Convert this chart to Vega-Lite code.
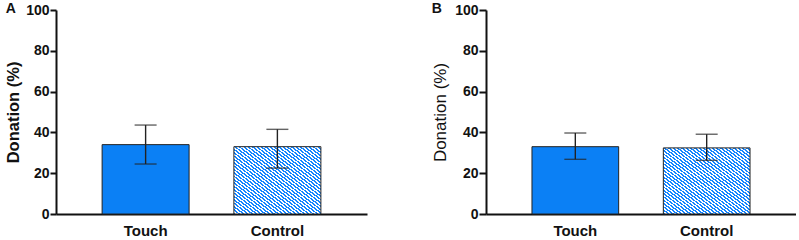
{
  "$schema": "https://vega.github.io/schema/vega-lite/v6.json",
  "padding": {"left": 5, "top": 2, "right": 0, "bottom": 0},
  "background": "white",
  "config": {
    "view": {"stroke": null},
    "font": "Liberation Sans",
    "axis": {"grid": false, "domainColor": "#111", "tickColor": "#111", "labelColor": "#111", "titleColor": "#111"},
    "title": {"anchor": "start", "frame": "bounds", "fontSize": 14, "fontWeight": "bold", "color": "#111"}
  },
  "data": {"values": [
    {"panel": "A", "cond": "Touch", "mean": 34.0, "lo": 24.5, "hi": 43.6},
    {"panel": "A", "cond": "Control", "mean": 33.0, "lo": 22.5, "hi": 41.5},
    {"panel": "B", "cond": "Touch", "mean": 33.0, "lo": 26.8, "hi": 39.7},
    {"panel": "B", "cond": "Control", "mean": 32.4, "lo": 26.3, "hi": 39.1}
  ]},
  "spacing": 64,
  "hconcat": [
    {
      "title": {"text": "A", "offset": -13},
      "width": 311,
      "height": 204,
      "transform": [{"filter": "datum.panel === 'A'"}],
      "encoding": {
        "x": {"field": "cond", "type": "nominal", "sort": ["Touch", "Control"],
              "scale": {"paddingInner": 0.34, "paddingOuter": 0.35},
              "axis": {"title": null, "labelAngle": 0, "ticks": false, "domainWidth": 2, "labelFontSize": 15, "labelFontWeight": "bold", "labelPadding": 9}}
      },
      "layer": [
        {
          "transform": [{"filter": "datum.cond === 'Touch'"}],
          "mark": {"type": "bar", "fill": "#0b80f5", "stroke": "#222", "strokeWidth": 1},
          "encoding": {"y": {"field": "mean", "type": "quantitative", "scale": {"domain": [0, 100]},
            "axis": {"values": [0, 20, 40, 60, 80, 100], "domainWidth": 2, "tickWidth": 2, "tickSize": 6, "labelFontSize": 14, "labelFontWeight": "bold", "labelPadding": 1, "title": "Donation (%)", "titleFontSize": 16.5, "titleFontWeight": "bold", "titlePadding": 4}}}
        },
        {
          "transform": [{"filter": "datum.cond === 'Control'"}],
          "mark": {"type": "bar", "stroke": "#222", "strokeWidth": 1,
            "fill": {"gradient": "linear", "x1": 0, "y1": 1, "x2": 1, "y2": 0, "stops": [
{"offset":0,"color":"#1485ff"},{"offset":0.0125,"color":"#1485ff"},{"offset":0.0125,"color":"#ffffff"},{"offset":0.025,"color":"#ffffff"},
{"offset":0.025,"color":"#1485ff"},{"offset":0.0375,"color":"#1485ff"},{"offset":0.0375,"color":"#ffffff"},{"offset":0.05,"color":"#ffffff"},
{"offset":0.05,"color":"#1485ff"},{"offset":0.0625,"color":"#1485ff"},{"offset":0.0625,"color":"#ffffff"},{"offset":0.075,"color":"#ffffff"},
{"offset":0.075,"color":"#1485ff"},{"offset":0.0875,"color":"#1485ff"},{"offset":0.0875,"color":"#ffffff"},{"offset":0.1,"color":"#ffffff"},
{"offset":0.1,"color":"#1485ff"},{"offset":0.1125,"color":"#1485ff"},{"offset":0.1125,"color":"#ffffff"},{"offset":0.125,"color":"#ffffff"},
{"offset":0.125,"color":"#1485ff"},{"offset":0.1375,"color":"#1485ff"},{"offset":0.1375,"color":"#ffffff"},{"offset":0.15,"color":"#ffffff"},
{"offset":0.15,"color":"#1485ff"},{"offset":0.1625,"color":"#1485ff"},{"offset":0.1625,"color":"#ffffff"},{"offset":0.175,"color":"#ffffff"},
{"offset":0.175,"color":"#1485ff"},{"offset":0.1875,"color":"#1485ff"},{"offset":0.1875,"color":"#ffffff"},{"offset":0.2,"color":"#ffffff"},
{"offset":0.2,"color":"#1485ff"},{"offset":0.2125,"color":"#1485ff"},{"offset":0.2125,"color":"#ffffff"},{"offset":0.225,"color":"#ffffff"},
{"offset":0.225,"color":"#1485ff"},{"offset":0.2375,"color":"#1485ff"},{"offset":0.2375,"color":"#ffffff"},{"offset":0.25,"color":"#ffffff"},
{"offset":0.25,"color":"#1485ff"},{"offset":0.2625,"color":"#1485ff"},{"offset":0.2625,"color":"#ffffff"},{"offset":0.275,"color":"#ffffff"},
{"offset":0.275,"color":"#1485ff"},{"offset":0.2875,"color":"#1485ff"},{"offset":0.2875,"color":"#ffffff"},{"offset":0.3,"color":"#ffffff"},
{"offset":0.3,"color":"#1485ff"},{"offset":0.3125,"color":"#1485ff"},{"offset":0.3125,"color":"#ffffff"},{"offset":0.325,"color":"#ffffff"},
{"offset":0.325,"color":"#1485ff"},{"offset":0.3375,"color":"#1485ff"},{"offset":0.3375,"color":"#ffffff"},{"offset":0.35,"color":"#ffffff"},
{"offset":0.35,"color":"#1485ff"},{"offset":0.3625,"color":"#1485ff"},{"offset":0.3625,"color":"#ffffff"},{"offset":0.375,"color":"#ffffff"},
{"offset":0.375,"color":"#1485ff"},{"offset":0.3875,"color":"#1485ff"},{"offset":0.3875,"color":"#ffffff"},{"offset":0.4,"color":"#ffffff"},
{"offset":0.4,"color":"#1485ff"},{"offset":0.4125,"color":"#1485ff"},{"offset":0.4125,"color":"#ffffff"},{"offset":0.425,"color":"#ffffff"},
{"offset":0.425,"color":"#1485ff"},{"offset":0.4375,"color":"#1485ff"},{"offset":0.4375,"color":"#ffffff"},{"offset":0.45,"color":"#ffffff"},
{"offset":0.45,"color":"#1485ff"},{"offset":0.4625,"color":"#1485ff"},{"offset":0.4625,"color":"#ffffff"},{"offset":0.475,"color":"#ffffff"},
{"offset":0.475,"color":"#1485ff"},{"offset":0.4875,"color":"#1485ff"},{"offset":0.4875,"color":"#ffffff"},{"offset":0.5,"color":"#ffffff"},
{"offset":0.5,"color":"#1485ff"},{"offset":0.5125,"color":"#1485ff"},{"offset":0.5125,"color":"#ffffff"},{"offset":0.525,"color":"#ffffff"},
{"offset":0.525,"color":"#1485ff"},{"offset":0.5375,"color":"#1485ff"},{"offset":0.5375,"color":"#ffffff"},{"offset":0.55,"color":"#ffffff"},
{"offset":0.55,"color":"#1485ff"},{"offset":0.5625,"color":"#1485ff"},{"offset":0.5625,"color":"#ffffff"},{"offset":0.575,"color":"#ffffff"},
{"offset":0.575,"color":"#1485ff"},{"offset":0.5875,"color":"#1485ff"},{"offset":0.5875,"color":"#ffffff"},{"offset":0.6,"color":"#ffffff"},
{"offset":0.6,"color":"#1485ff"},{"offset":0.6125,"color":"#1485ff"},{"offset":0.6125,"color":"#ffffff"},{"offset":0.625,"color":"#ffffff"},
{"offset":0.625,"color":"#1485ff"},{"offset":0.6375,"color":"#1485ff"},{"offset":0.6375,"color":"#ffffff"},{"offset":0.65,"color":"#ffffff"},
{"offset":0.65,"color":"#1485ff"},{"offset":0.6625,"color":"#1485ff"},{"offset":0.6625,"color":"#ffffff"},{"offset":0.675,"color":"#ffffff"},
{"offset":0.675,"color":"#1485ff"},{"offset":0.6875,"color":"#1485ff"},{"offset":0.6875,"color":"#ffffff"},{"offset":0.7,"color":"#ffffff"},
{"offset":0.7,"color":"#1485ff"},{"offset":0.7125,"color":"#1485ff"},{"offset":0.7125,"color":"#ffffff"},{"offset":0.725,"color":"#ffffff"},
{"offset":0.725,"color":"#1485ff"},{"offset":0.7375,"color":"#1485ff"},{"offset":0.7375,"color":"#ffffff"},{"offset":0.75,"color":"#ffffff"},
{"offset":0.75,"color":"#1485ff"},{"offset":0.7625,"color":"#1485ff"},{"offset":0.7625,"color":"#ffffff"},{"offset":0.775,"color":"#ffffff"},
{"offset":0.775,"color":"#1485ff"},{"offset":0.7875,"color":"#1485ff"},{"offset":0.7875,"color":"#ffffff"},{"offset":0.8,"color":"#ffffff"},
{"offset":0.8,"color":"#1485ff"},{"offset":0.8125,"color":"#1485ff"},{"offset":0.8125,"color":"#ffffff"},{"offset":0.825,"color":"#ffffff"},
{"offset":0.825,"color":"#1485ff"},{"offset":0.8375,"color":"#1485ff"},{"offset":0.8375,"color":"#ffffff"},{"offset":0.85,"color":"#ffffff"},
{"offset":0.85,"color":"#1485ff"},{"offset":0.8625,"color":"#1485ff"},{"offset":0.8625,"color":"#ffffff"},{"offset":0.875,"color":"#ffffff"},
{"offset":0.875,"color":"#1485ff"},{"offset":0.8875,"color":"#1485ff"},{"offset":0.8875,"color":"#ffffff"},{"offset":0.9,"color":"#ffffff"},
{"offset":0.9,"color":"#1485ff"},{"offset":0.9125,"color":"#1485ff"},{"offset":0.9125,"color":"#ffffff"},{"offset":0.925,"color":"#ffffff"},
{"offset":0.925,"color":"#1485ff"},{"offset":0.9375,"color":"#1485ff"},{"offset":0.9375,"color":"#ffffff"},{"offset":0.95,"color":"#ffffff"},
{"offset":0.95,"color":"#1485ff"},{"offset":0.9625,"color":"#1485ff"},{"offset":0.9625,"color":"#ffffff"},{"offset":0.975,"color":"#ffffff"},
{"offset":0.975,"color":"#1485ff"},{"offset":0.9875,"color":"#1485ff"},{"offset":0.9875,"color":"#ffffff"},{"offset":1,"color":"#ffffff"}
            ]}},
          "encoding": {"y": {"field": "mean", "type": "quantitative"}}
        },
        {
          "mark": {"type": "rule", "color": "#222", "strokeWidth": 1.4},
          "encoding": {"y": {"field": "lo", "type": "quantitative"}, "y2": {"field": "hi"}}
        },
        {
          "mark": {"type": "tick", "color": "#222", "thickness": 1.4, "size": 22},
          "encoding": {"y": {"field": "hi", "type": "quantitative"}}
        },
        {
          "mark": {"type": "tick", "color": "#222", "thickness": 1.4, "size": 22},
          "encoding": {"y": {"field": "lo", "type": "quantitative"}}
        }
      ]
    },
    {
      "title": {"text": "B", "offset": -13},
      "width": 310,
      "height": 204,
      "transform": [{"filter": "datum.panel === 'B'"}],
      "encoding": {
        "x": {"field": "cond", "type": "nominal", "sort": ["Touch", "Control"],
              "scale": {"paddingInner": 0.34, "paddingOuter": 0.35},
              "axis": {"title": null, "labelAngle": 0, "ticks": false, "domainWidth": 2, "labelFontSize": 15, "labelFontWeight": "bold", "labelPadding": 9}}
      },
      "layer": [
        {
          "transform": [{"filter": "datum.cond === 'Touch'"}],
          "mark": {"type": "bar", "fill": "#0b80f5", "stroke": "#222", "strokeWidth": 1},
          "encoding": {"y": {"field": "mean", "type": "quantitative", "scale": {"domain": [0, 100]},
            "axis": {"values": [0, 20, 40, 60, 80, 100], "domainWidth": 2, "tickWidth": 2, "tickSize": 7, "labelFontSize": 14, "labelFontWeight": "bold", "labelPadding": 1, "title": "Donation (%)", "titleFontSize": 17, "titleFontWeight": "normal", "titlePadding": 5}}}
        },
        {
          "transform": [{"filter": "datum.cond === 'Control'"}],
          "mark": {"type": "bar", "stroke": "#222", "strokeWidth": 1,
            "fill": {"gradient": "linear", "x1": 0, "y1": 1, "x2": 1, "y2": 0, "stops": [
{"offset":0,"color":"#1485ff"},{"offset":0.0125,"color":"#1485ff"},{"offset":0.0125,"color":"#ffffff"},{"offset":0.025,"color":"#ffffff"},
{"offset":0.025,"color":"#1485ff"},{"offset":0.0375,"color":"#1485ff"},{"offset":0.0375,"color":"#ffffff"},{"offset":0.05,"color":"#ffffff"},
{"offset":0.05,"color":"#1485ff"},{"offset":0.0625,"color":"#1485ff"},{"offset":0.0625,"color":"#ffffff"},{"offset":0.075,"color":"#ffffff"},
{"offset":0.075,"color":"#1485ff"},{"offset":0.0875,"color":"#1485ff"},{"offset":0.0875,"color":"#ffffff"},{"offset":0.1,"color":"#ffffff"},
{"offset":0.1,"color":"#1485ff"},{"offset":0.1125,"color":"#1485ff"},{"offset":0.1125,"color":"#ffffff"},{"offset":0.125,"color":"#ffffff"},
{"offset":0.125,"color":"#1485ff"},{"offset":0.1375,"color":"#1485ff"},{"offset":0.1375,"color":"#ffffff"},{"offset":0.15,"color":"#ffffff"},
{"offset":0.15,"color":"#1485ff"},{"offset":0.1625,"color":"#1485ff"},{"offset":0.1625,"color":"#ffffff"},{"offset":0.175,"color":"#ffffff"},
{"offset":0.175,"color":"#1485ff"},{"offset":0.1875,"color":"#1485ff"},{"offset":0.1875,"color":"#ffffff"},{"offset":0.2,"color":"#ffffff"},
{"offset":0.2,"color":"#1485ff"},{"offset":0.2125,"color":"#1485ff"},{"offset":0.2125,"color":"#ffffff"},{"offset":0.225,"color":"#ffffff"},
{"offset":0.225,"color":"#1485ff"},{"offset":0.2375,"color":"#1485ff"},{"offset":0.2375,"color":"#ffffff"},{"offset":0.25,"color":"#ffffff"},
{"offset":0.25,"color":"#1485ff"},{"offset":0.2625,"color":"#1485ff"},{"offset":0.2625,"color":"#ffffff"},{"offset":0.275,"color":"#ffffff"},
{"offset":0.275,"color":"#1485ff"},{"offset":0.2875,"color":"#1485ff"},{"offset":0.2875,"color":"#ffffff"},{"offset":0.3,"color":"#ffffff"},
{"offset":0.3,"color":"#1485ff"},{"offset":0.3125,"color":"#1485ff"},{"offset":0.3125,"color":"#ffffff"},{"offset":0.325,"color":"#ffffff"},
{"offset":0.325,"color":"#1485ff"},{"offset":0.3375,"color":"#1485ff"},{"offset":0.3375,"color":"#ffffff"},{"offset":0.35,"color":"#ffffff"},
{"offset":0.35,"color":"#1485ff"},{"offset":0.3625,"color":"#1485ff"},{"offset":0.3625,"color":"#ffffff"},{"offset":0.375,"color":"#ffffff"},
{"offset":0.375,"color":"#1485ff"},{"offset":0.3875,"color":"#1485ff"},{"offset":0.3875,"color":"#ffffff"},{"offset":0.4,"color":"#ffffff"},
{"offset":0.4,"color":"#1485ff"},{"offset":0.4125,"color":"#1485ff"},{"offset":0.4125,"color":"#ffffff"},{"offset":0.425,"color":"#ffffff"},
{"offset":0.425,"color":"#1485ff"},{"offset":0.4375,"color":"#1485ff"},{"offset":0.4375,"color":"#ffffff"},{"offset":0.45,"color":"#ffffff"},
{"offset":0.45,"color":"#1485ff"},{"offset":0.4625,"color":"#1485ff"},{"offset":0.4625,"color":"#ffffff"},{"offset":0.475,"color":"#ffffff"},
{"offset":0.475,"color":"#1485ff"},{"offset":0.4875,"color":"#1485ff"},{"offset":0.4875,"color":"#ffffff"},{"offset":0.5,"color":"#ffffff"},
{"offset":0.5,"color":"#1485ff"},{"offset":0.5125,"color":"#1485ff"},{"offset":0.5125,"color":"#ffffff"},{"offset":0.525,"color":"#ffffff"},
{"offset":0.525,"color":"#1485ff"},{"offset":0.5375,"color":"#1485ff"},{"offset":0.5375,"color":"#ffffff"},{"offset":0.55,"color":"#ffffff"},
{"offset":0.55,"color":"#1485ff"},{"offset":0.5625,"color":"#1485ff"},{"offset":0.5625,"color":"#ffffff"},{"offset":0.575,"color":"#ffffff"},
{"offset":0.575,"color":"#1485ff"},{"offset":0.5875,"color":"#1485ff"},{"offset":0.5875,"color":"#ffffff"},{"offset":0.6,"color":"#ffffff"},
{"offset":0.6,"color":"#1485ff"},{"offset":0.6125,"color":"#1485ff"},{"offset":0.6125,"color":"#ffffff"},{"offset":0.625,"color":"#ffffff"},
{"offset":0.625,"color":"#1485ff"},{"offset":0.6375,"color":"#1485ff"},{"offset":0.6375,"color":"#ffffff"},{"offset":0.65,"color":"#ffffff"},
{"offset":0.65,"color":"#1485ff"},{"offset":0.6625,"color":"#1485ff"},{"offset":0.6625,"color":"#ffffff"},{"offset":0.675,"color":"#ffffff"},
{"offset":0.675,"color":"#1485ff"},{"offset":0.6875,"color":"#1485ff"},{"offset":0.6875,"color":"#ffffff"},{"offset":0.7,"color":"#ffffff"},
{"offset":0.7,"color":"#1485ff"},{"offset":0.7125,"color":"#1485ff"},{"offset":0.7125,"color":"#ffffff"},{"offset":0.725,"color":"#ffffff"},
{"offset":0.725,"color":"#1485ff"},{"offset":0.7375,"color":"#1485ff"},{"offset":0.7375,"color":"#ffffff"},{"offset":0.75,"color":"#ffffff"},
{"offset":0.75,"color":"#1485ff"},{"offset":0.7625,"color":"#1485ff"},{"offset":0.7625,"color":"#ffffff"},{"offset":0.775,"color":"#ffffff"},
{"offset":0.775,"color":"#1485ff"},{"offset":0.7875,"color":"#1485ff"},{"offset":0.7875,"color":"#ffffff"},{"offset":0.8,"color":"#ffffff"},
{"offset":0.8,"color":"#1485ff"},{"offset":0.8125,"color":"#1485ff"},{"offset":0.8125,"color":"#ffffff"},{"offset":0.825,"color":"#ffffff"},
{"offset":0.825,"color":"#1485ff"},{"offset":0.8375,"color":"#1485ff"},{"offset":0.8375,"color":"#ffffff"},{"offset":0.85,"color":"#ffffff"},
{"offset":0.85,"color":"#1485ff"},{"offset":0.8625,"color":"#1485ff"},{"offset":0.8625,"color":"#ffffff"},{"offset":0.875,"color":"#ffffff"},
{"offset":0.875,"color":"#1485ff"},{"offset":0.8875,"color":"#1485ff"},{"offset":0.8875,"color":"#ffffff"},{"offset":0.9,"color":"#ffffff"},
{"offset":0.9,"color":"#1485ff"},{"offset":0.9125,"color":"#1485ff"},{"offset":0.9125,"color":"#ffffff"},{"offset":0.925,"color":"#ffffff"},
{"offset":0.925,"color":"#1485ff"},{"offset":0.9375,"color":"#1485ff"},{"offset":0.9375,"color":"#ffffff"},{"offset":0.95,"color":"#ffffff"},
{"offset":0.95,"color":"#1485ff"},{"offset":0.9625,"color":"#1485ff"},{"offset":0.9625,"color":"#ffffff"},{"offset":0.975,"color":"#ffffff"},
{"offset":0.975,"color":"#1485ff"},{"offset":0.9875,"color":"#1485ff"},{"offset":0.9875,"color":"#ffffff"},{"offset":1,"color":"#ffffff"}
            ]}},
          "encoding": {"y": {"field": "mean", "type": "quantitative"}}
        },
        {
          "mark": {"type": "rule", "color": "#222", "strokeWidth": 1.4},
          "encoding": {"y": {"field": "lo", "type": "quantitative"}, "y2": {"field": "hi"}}
        },
        {
          "mark": {"type": "tick", "color": "#222", "thickness": 1.4, "size": 22},
          "encoding": {"y": {"field": "hi", "type": "quantitative"}}
        },
        {
          "mark": {"type": "tick", "color": "#222", "thickness": 1.4, "size": 22},
          "encoding": {"y": {"field": "lo", "type": "quantitative"}}
        }
      ]
    }
  ]
}
